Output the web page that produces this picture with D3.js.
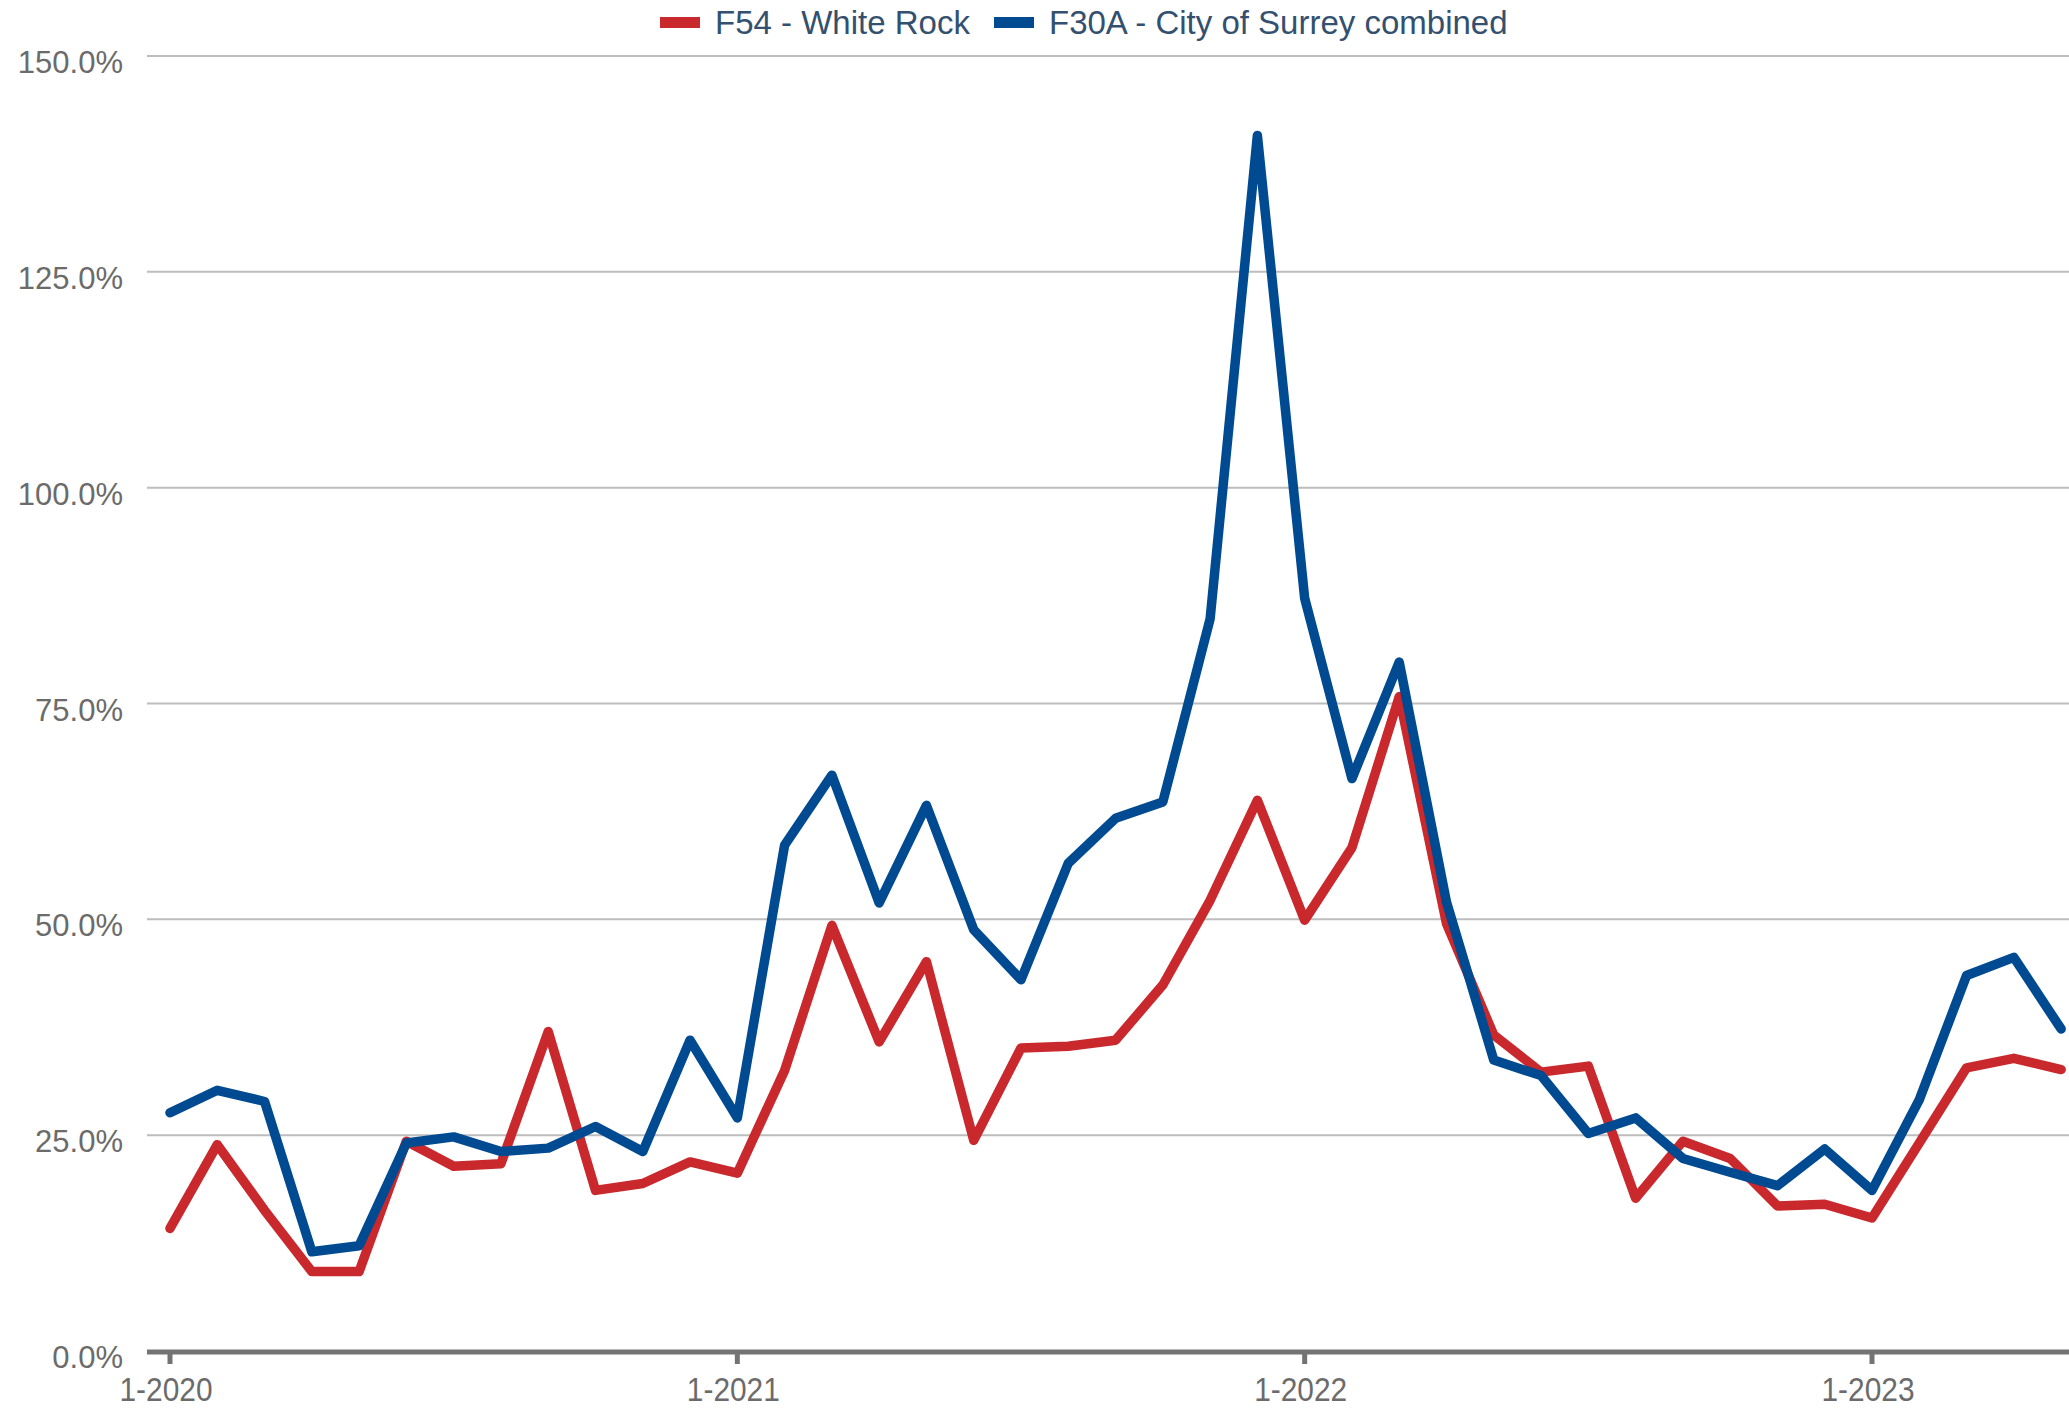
<!DOCTYPE html>
<html>
<head>
<meta charset="utf-8">
<script src="https://cdn.jsdelivr.net/npm/d3@7"></script>
<style>
  html, body { margin: 0; padding: 0; background: #ffffff; }
  svg { display: block; }
</style>
</head>
<body>
<svg id="chart" width="2069" height="1409"></svg>
<script>
// ---- Data ----
const months = d3.range(0, 41); // Jan 2020 .. May 2023, monthly index
const whiteRock = [14.2, 23.9, 16.3, 9.2, 9.2, 24.3, 21.4, 21.7, 37.0, 18.6, 19.4, 21.9,
                   20.6, 32.5, 49.3, 35.8, 45.1, 24.4, 35.1, 35.3, 36.0, 42.4, 52.2, 63.8,
                   49.9, 58.3, 75.8, 49.5, 36.6, 32.3, 33.0, 17.7, 24.3, 22.3, 16.8, 17.0,
                   15.4, 24.1, 32.8, 33.9, 32.6];
const surrey    = [27.6, 30.2, 28.9, 11.5, 12.2, 24.1, 24.8, 23.1, 23.5, 26.0, 23.1, 36.0,
                   27.0, 58.6, 66.7, 51.9, 63.2, 48.8, 43.0, 56.5, 61.7, 63.6, 84.8, 140.8,
                   87.2, 66.3, 79.8, 52.0, 33.7, 31.9, 25.2, 27.0, 22.3, 20.7, 19.15, 23.4,
                   18.6, 29.1, 43.5, 45.6, 37.3];
const seriesNames = ["F54 - White Rock", "F30A - City of Surrey combined"];
const seriesColors = ["#c9282d", "#004a92"];
const yTicks = [0, 25, 50, 75, 100, 125, 150];
const xTickIdx = [0, 12, 24, 36];
const xTickLabels = ["1-2020", "1-2021", "1-2022", "1-2023"];

// ---- Layout ----
const svg = d3.select("#chart");
const plotLeft = 147, plotRight = 2069;
const x = d3.scaleLinear().domain([0, 36]).range([170, 1872]);
const y = d3.scaleLinear().domain([0, 150]).range([1351, 56]);
const axisColor = "#737373";
const textColor = "#6b6b6b";

// gridlines
svg.append("g").selectAll("line")
  .data(yTicks.filter(d => d > 0))
  .join("line")
  .attr("x1", plotLeft).attr("x2", plotRight)
  .attr("y1", d => y(d)).attr("y2", d => y(d))
  .attr("stroke", "#bdbdbd").attr("stroke-width", 2);

// y labels
svg.append("g").selectAll("text")
  .data(yTicks)
  .join("text")
  .attr("x", 123).attr("y", d => y(d) + 17)
  .attr("text-anchor", "end")
  .attr("font-family", "Liberation Sans, Arial, sans-serif")
  .attr("font-size", 31)
  .attr("fill", textColor)
  .text(d => d3.format(".1f")(d) + "%");

// series lines (red first, blue on top)
const line = d3.line().x((d, i) => x(months[i])).y(d => y(d));
[whiteRock, surrey].forEach((vals, k) => {
  svg.append("path")
    .datum(vals)
    .attr("d", line)
    .attr("fill", "none")
    .attr("stroke", seriesColors[k])
    .attr("stroke-width", 9.5)
    .attr("stroke-linejoin", "round")
    .attr("stroke-linecap", "round");
});

// x axis
svg.append("line")
  .attr("x1", plotLeft).attr("x2", plotRight)
  .attr("y1", y(0) + 1).attr("y2", y(0) + 1)
  .attr("stroke", axisColor).attr("stroke-width", 5);
svg.append("g").selectAll("line")
  .data(xTickIdx)
  .join("line")
  .attr("x1", d => x(d)).attr("x2", d => x(d))
  .attr("y1", y(0) + 3).attr("y2", y(0) + 13)
  .attr("stroke", axisColor).attr("stroke-width", 5);
svg.append("g").selectAll("text")
  .data(xTickIdx)
  .join("text")
  .attr("x", d => x(d) - 4)
  .attr("y", 1401)
  .attr("text-anchor", "middle")
  .attr("font-family", "Liberation Sans, Arial, sans-serif")
  .attr("font-size", 33)
  .attr("fill", textColor)
  .attr("textLength", 93)
  .attr("lengthAdjust", "spacingAndGlyphs")
  .text((d, i) => xTickLabels[i]);

// legend
const legend = svg.append("g");
const legendX = [660, 994];
seriesNames.forEach((name, k) => {
  legend.append("rect")
    .attr("x", legendX[k]).attr("y", 17)
    .attr("width", 40).attr("height", 11)
    .attr("fill", seriesColors[k]);
  legend.append("text")
    .attr("x", legendX[k] + 55).attr("y", 34)
    .attr("font-family", "Liberation Sans, Arial, sans-serif")
    .attr("font-size", 33)
    .attr("fill", "#34506f")
    .text(name);
});
</script>
</body>
</html>
